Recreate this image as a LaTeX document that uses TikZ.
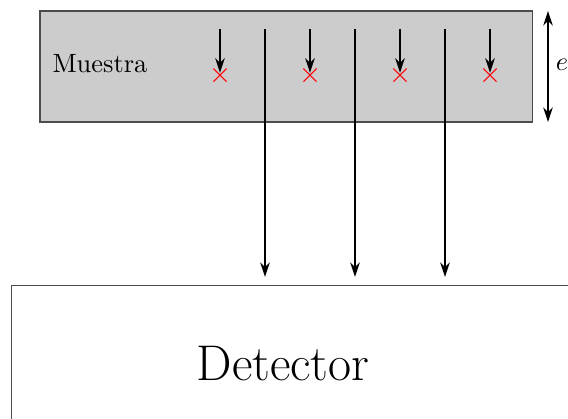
\documentclass[tikz,border=0pt]{standalone}
\usetikzlibrary{shapes.misc, arrows.meta, positioning, calc}

\begin{document}
\begin{tikzpicture}[
    >={Stealth[length=5.5pt, width=3.6pt]},
    box/.style={draw=black!70, inner sep=0pt},
    ray/.style={->, thick},
    hit/.style={cross out, draw=red, minimum size=0.16cm, inner sep=0pt}
]
\useasboundingbox (0, 0) rectangle (7.56, 5.564);

% sample slab
\node (Sample) at (3.807, 4.679) [box, fill=black!20, minimum width=6.549cm, minimum height=1.477cm] {};
\node (SLabel) at (0.692, 4.712) [anchor=west, inner sep=0pt] {Muestra};

% absorbed photons
\node (X1) at (2.928, 4.565) [hit] {};
\node (X2) at (4.126, 4.565) [hit] {};
\node (X3) at (5.324, 4.565) [hit] {};
\node (X4) at (6.522, 4.565) [hit] {};

\coordinate (A1) at (2.928, 5.178);
\coordinate (A2) at (4.126, 5.178);
\coordinate (A3) at (5.324, 5.178);
\coordinate (A4) at (6.522, 5.178);

\draw[ray] (A1) -- ($(X1.center)+(0, 0.03)$);
\draw[ray] (A2) -- ($(X2.center)+(0, 0.03)$);
\draw[ray] (A3) -- ($(X3.center)+(0, 0.03)$);
\draw[ray] (A4) -- ($(X4.center)+(0, 0.03)$);

% detector
\node (Detector) at (0.146, 1.770) [box, anchor=north west, minimum width=7.41cm, minimum height=2.3cm] {};
\node (DLabel) at (3.767, 0.719) {\fontsize{19}{22}\selectfont Detector};

% transmitted photons
\coordinate (B1) at (3.527, 5.178);
\coordinate (B2) at (4.725, 5.178);
\coordinate (B3) at (5.923, 5.178);

\draw[ray] (B1) -- (B1 |- 0, 1.877);
\draw[ray] (B2) -- (B2 |- 0, 1.877);
\draw[ray] (B3) -- (B3 |- 0, 1.877);

% thickness
\coordinate (E1) at (7.294, 5.417);
\coordinate (E2) at (7.294, 3.940);
\draw[<->] (E1) -- (E2);
\node (ELabel) at (7.48, 4.70) [inner sep=0pt] {$e$};

\end{tikzpicture}
\end{document}
